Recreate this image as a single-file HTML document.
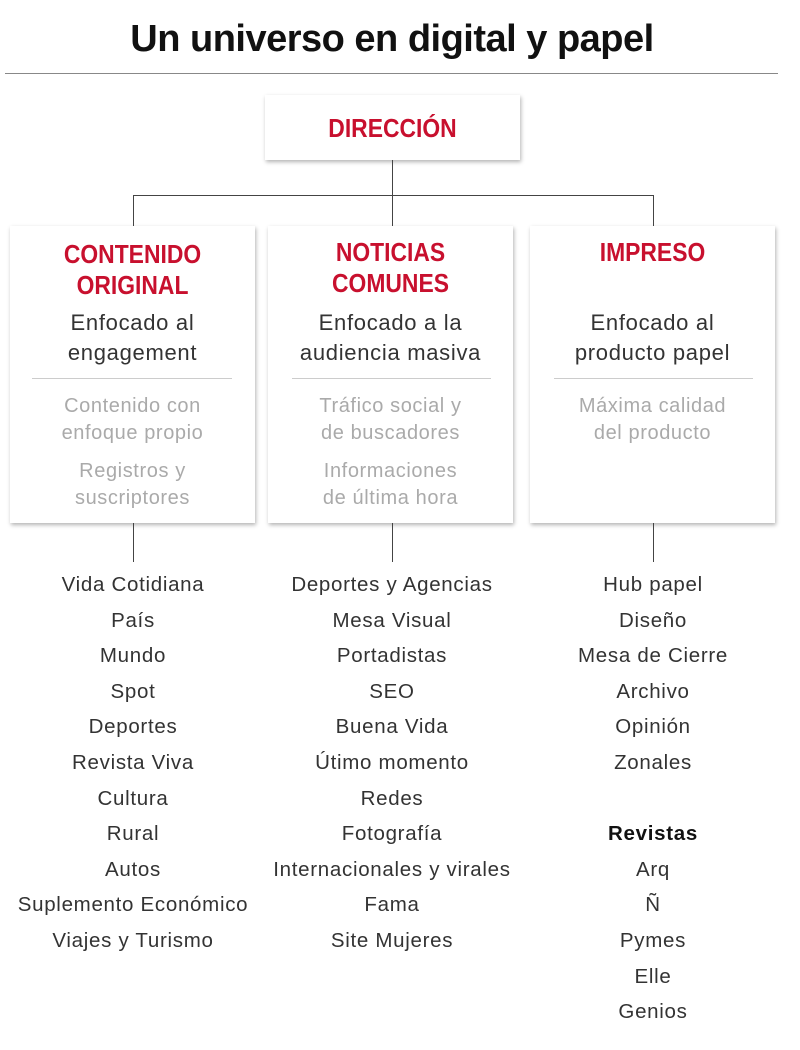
<!DOCTYPE html>
<html><head><meta charset="utf-8"><style>
body{margin:0;width:800px;height:1050px;background:#fff;position:relative;font-family:"Liberation Sans",sans-serif;overflow:hidden}
.a{position:absolute}
.t{left:0;width:784px;top:18px;text-align:center;font-weight:bold;font-size:38px;color:#111;letter-spacing:-0.5px}
.box{position:absolute;background:#fff;box-shadow:1px 2px 4px rgba(0,0,0,.3)}
.red{color:#c8102e;font-weight:bold;text-align:center;font-size:26px;line-height:31px;transform:scaleX(0.88)}
.sub{text-align:center;font-size:22px;line-height:30px;color:#333;letter-spacing:0.7px;white-space:nowrap}
.g{text-align:center;font-size:20px;line-height:27px;color:#aaa;letter-spacing:0.6px;white-space:nowrap}
.hr{position:absolute;height:1px;background:#ccc}
.l{position:absolute;background:#444}
.list{position:absolute;width:260px;text-align:center;font-size:20.5px;line-height:35.6px;color:#333;top:567px;letter-spacing:0.7px;white-space:nowrap}
</style></head><body>
<div class="a t">Un universo en digital y papel</div>
<div class="l" style="left:5px;top:73px;width:773px;height:1px;background:#888"></div>
<div class="box" style="left:265px;top:95px;width:255px;height:65px"><div class="red" style="margin-top:18px">DIRECCIÓN</div></div>
<div class="l" style="left:392px;top:160px;width:1px;height:66px"></div>
<div class="l" style="left:133px;top:195px;width:521px;height:1px"></div>
<div class="l" style="left:133px;top:195px;width:1px;height:31px"></div>
<div class="l" style="left:653px;top:195px;width:1px;height:31px"></div>

<div class="box" style="left:10px;top:226px;width:245px;height:297px">
<div class="red" style="margin-top:13px">CONTENIDO<br>ORIGINAL</div>
<div class="sub" style="margin-top:7px">Enfocado al<br>engagement</div>
<div class="hr" style="left:22px;width:200px;top:152px"></div>
<div class="g" style="margin-top:25px">Contenido con<br>enfoque propio</div>
<div class="g" style="margin-top:11px">Registros y<br>suscriptores</div>
</div>
<div class="box" style="left:268px;top:226px;width:245px;height:297px">
<div class="red" style="margin-top:11px">NOTICIAS<br>COMUNES</div>
<div class="sub" style="margin-top:9px">Enfocado a la<br>audiencia masiva</div>
<div class="hr" style="left:24px;width:199px;top:152px"></div>
<div class="g" style="margin-top:25px">Tráfico social y<br>de buscadores</div>
<div class="g" style="margin-top:11px">Informaciones<br>de última hora</div>
</div>
<div class="box" style="left:530px;top:226px;width:245px;height:297px">
<div class="red" style="margin-top:11px">IMPRESO</div>
<div class="sub" style="margin-top:40px">Enfocado al<br>producto papel</div>
<div class="hr" style="left:24px;width:199px;top:152px"></div>
<div class="g" style="margin-top:25px">Máxima calidad<br>del producto</div>
</div>

<div class="l" style="left:133px;top:523px;width:1px;height:39px"></div>
<div class="l" style="left:392px;top:523px;width:1px;height:39px"></div>
<div class="l" style="left:653px;top:523px;width:1px;height:39px"></div>

<div class="list" style="left:3px">Vida Cotidiana<br>País<br>Mundo<br>Spot<br>Deportes<br>Revista Viva<br>Cultura<br>Rural<br>Autos<br>Suplemento Económico<br>Viajes y Turismo</div>
<div class="list" style="left:262px">Deportes y Agencias<br>Mesa Visual<br>Portadistas<br>SEO<br>Buena Vida<br>Útimo momento<br>Redes<br>Fotografía<br>Internacionales y virales<br>Fama<br>Site Mujeres</div>
<div class="list" style="left:523px">Hub papel<br>Diseño<br>Mesa de Cierre<br>Archivo<br>Opinión<br>Zonales<br><br><b style="color:#111">Revistas</b><br>Arq<br>Ñ<br>Pymes<br>Elle<br>Genios</div>
</body></html>
